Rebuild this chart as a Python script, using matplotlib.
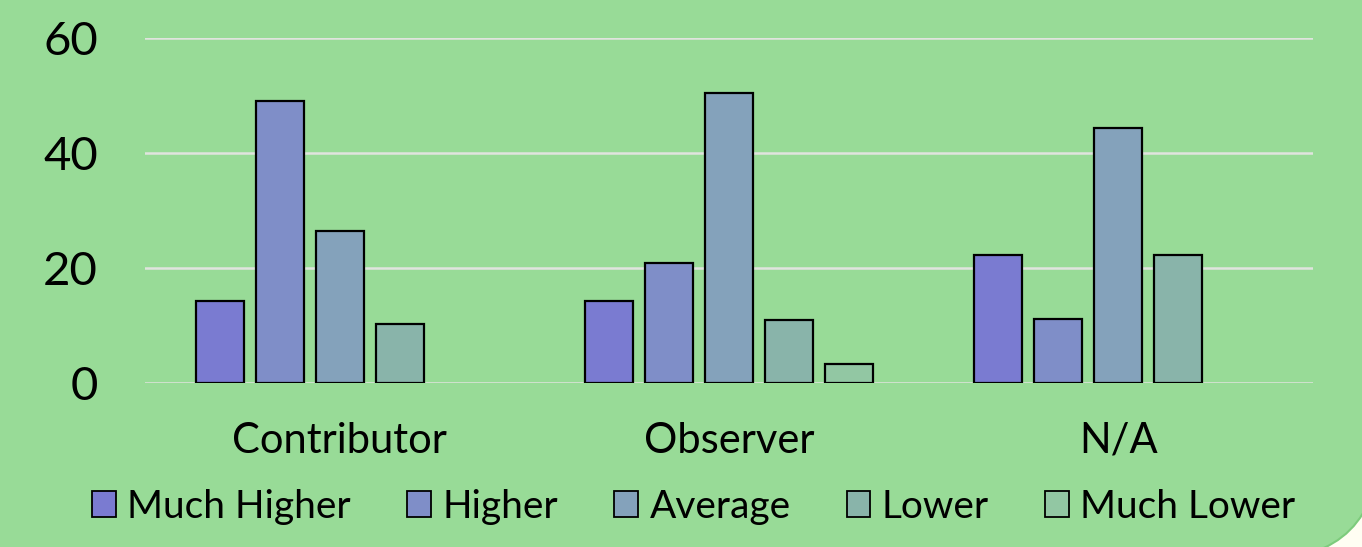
import numpy as np
import matplotlib
matplotlib.use('Agg')
import matplotlib.pyplot as plt
from matplotlib.patches import FancyBboxPatch

plt.rcParams['font.family'] = ['Lato', 'DejaVu Sans']

# data (percent of respondents)
categories = ['Contributor', 'Observer', 'N/A']
series_names = ['Much Higher', 'Higher', 'Average', 'Lower', 'Much Lower']
much_higher = [14.3, 14.3, 22.2]
higher = [49.0, 20.9, 11.1]
average = [26.5, 50.5, 44.4]
lower = [10.2, 11.0, 22.2]
much_lower = [0.0, 3.3, 0.0]
yticks = [0, 20, 40, 60]

series = [much_higher, higher, average, lower, much_lower]
colors = ['#7A7BD1', '#7F8EC8', '#84A2BB', '#89B4AA', '#92C7A3']
bg_green = '#98DB97'

fig = plt.figure(figsize=(13.62, 5.47), dpi=100)
fig.patch.set_facecolor('#FFFEF3')

# slide background with rounded bottom-right corner
bg = fig.add_axes([0, 0, 1, 1], zorder=-10)
bg.set_xlim(0, 1362)
bg.set_ylim(547, 0)
bg.axis('off')
bg.add_patch(FancyBboxPatch((-200, -200), 1580, 760,
                            boxstyle='round,pad=0,rounding_size=120',
                            facecolor=bg_green, edgecolor='#7DCB7C', linewidth=1.5))

ax = fig.add_axes([0.1065, 0.2998, 0.8575, 0.6307])
ax.set_facecolor('none')

x = np.arange(len(categories))
pitch = 0.154
width = 0.123
for i, (name, vals, c) in enumerate(zip(series_names, series, colors)):
    vals = np.array(vals)
    pos = x + (i - 2) * pitch
    keep = vals > 0
    ax.bar(pos[keep], vals[keep], width, color=c, edgecolor='black',
           linewidth=1.6, label=name, zorder=3)

ax.set_xlim(-0.5, len(categories) - 0.5)
ax.set_ylim(0, 60)
ax.set_yticks(yticks)
ax.set_xticks(x)
ax.set_xticklabels(categories)
ax.tick_params(axis='y', length=0, pad=34, labelsize=34)
ax.tick_params(axis='x', length=0, pad=28, labelsize=30)

ax.yaxis.grid(True, color='#E0E4DE', linewidth=1.8, zorder=0)
ax.set_axisbelow(True)
for s in ax.spines.values():
    s.set_visible(False)

leg = ax.legend(loc='center', bbox_to_anchor=(0.5095, 0.073),
                bbox_transform=fig.transFigure, ncol=5,
                frameon=False, fontsize=28, handlelength=0.6, handleheight=0.65,
                handletextpad=0.3, columnspacing=1.45, borderaxespad=0)
for h in leg.legend_handles:
    h.set_linewidth(1.3)

plt.savefig('out.png', dpi=100, facecolor=fig.get_facecolor())
